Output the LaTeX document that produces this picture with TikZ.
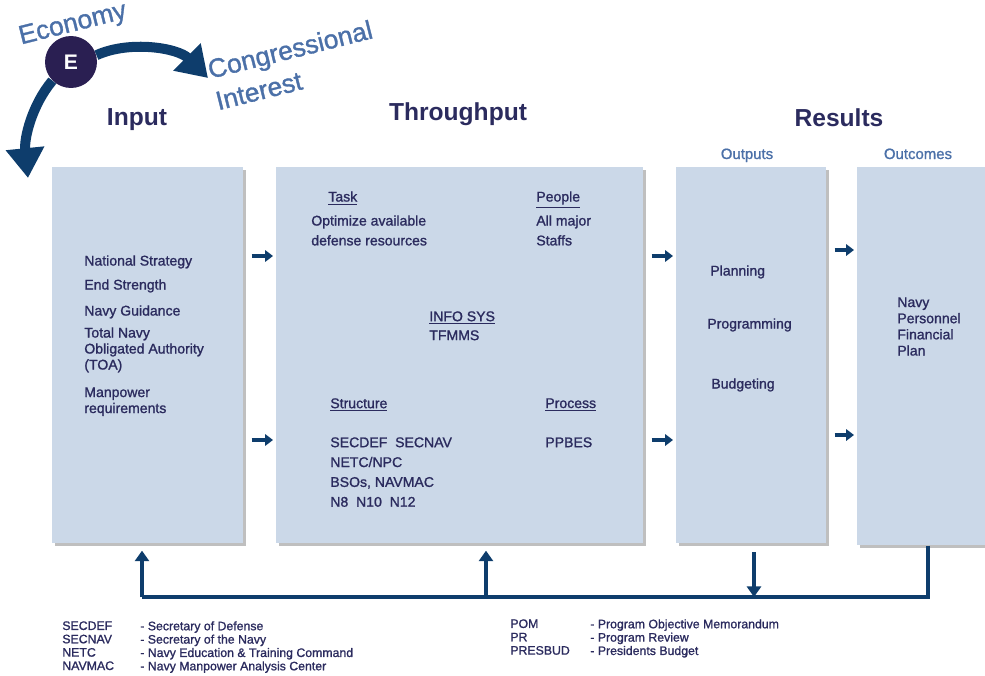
\documentclass[tikz,border=0pt]{standalone}
\usepackage{fontspec}
\setmainfont{Liberation Sans}
\newfontfamily\medfont[FakeBold=1.2]{Liberation Sans}
\usetikzlibrary{arrows.meta,shadows,positioning}

\definecolor{boxfill}{HTML}{CBD8E8}
\definecolor{navytext}{HTML}{2B2B5E}
\definecolor{flowblue}{HTML}{0E3D6C}
\definecolor{headblue}{HTML}{4B70A8}
\definecolor{ecircle}{HTML}{2A1F52}

\begin{document}
\begin{tikzpicture}[x=0.02cm, y=-0.02cm,
		box/.style={fill=boxfill, anchor=north west, inner sep=0pt,
			drop shadow={shadow xshift=1.5pt, shadow yshift=-1.5pt, fill=black, opacity=.25}},
		txt/.style={anchor=north west, inner sep=0pt, text=navytext, align=left,
			font=\medfont\fontsize{8}{9.1}\selectfont},
		title/.style={anchor=base, text=navytext, font=\fontsize{14}{16}\selectfont\bfseries},
		sub/.style={anchor=base, text=headblue, font=\medfont\fontsize{8.5}{10}\selectfont},
		legend/.style={anchor=north west, inner sep=0pt, text=navytext, align=left,
			font=\medfont\fontsize{7}{7.6}\selectfont},
		tilt/.style={text=headblue, align=left, font=\medfont\fontsize{15}{18.5}\selectfont, rotate=14},
		link/.style={draw=flowblue, line width=2.2pt, shorten <=4.5pt, shorten >=1.7pt,
			-{Triangle[length=4.5pt,width=6.5pt]}},
		fb/.style={draw=flowblue, line width=2.6pt},
		fbtip/.style={fb, -{Triangle[length=6pt,width=8pt]}},
		curvearrow/.style={draw=flowblue, line width=5.7pt, -{Triangle[length=17pt,width=21pt]}}]
		\clip (0,0) rectangle (985,676);
		% boxes
		\node[box, minimum width=3.82cm, minimum height=7.52cm] (inbox) at (52,167) {};
		\node[box, minimum width=7.34cm, minimum height=7.52cm] (thru) at (276,167) {};
		\node[box, minimum width=3.0cm, minimum height=7.52cm] (outp) at (676,167) {};
		\node[box, minimum width=3.0cm, minimum height=7.56cm] (outc) at (857,167) {};
		% titles
		\node[title] (tin) at (137,125) {Input};
		\node[title] (tthru) at (458,120) {Throughput};
		\node[title] (tres) at (839,126) {Results};
		\node[sub] (tout) at (747,159) {Outputs};
		\node[sub] (toutc) at (918,159) {Outcomes};
		% input
		\node[txt] (ns) at (84,255) {National Strategy};
		\node[txt] (es) at (84,279) {End Strength};
		\node[txt] (ng) at (84,305) {Navy Guidance};
		\node[txt] (toa) at (84,327) {Total Navy\\Obligated Authority\\(TOA)};
		\node[txt] (mp) at (84,387) {Manpower\\requirements};
		% throughput
		\node[txt] (task) at (328,191) {\underline{Task}};
		\node[txt, font=\medfont\fontsize{8}{11.3}\selectfont] (taskt) at (311,215) {Optimize available\\defense resources};
		\node[txt] (ppl) at (536,191) {\underline{People}};
		\node[txt, font=\medfont\fontsize{8}{11.3}\selectfont] (pplt) at (536,215) {All major\\Staffs};
		\node[txt, font=\medfont\fontsize{8}{10.8}\selectfont] (info) at (429,311) {\underline{INFO SYS}\\TFMMS};
		\node[txt] (str) at (330,398) {\underline{Structure}};
		\node[txt, font=\medfont\fontsize{8}{11.3}\selectfont] (strt) at (330,437)
			{SECDEF~~SECNAV\\NETC/NPC\\BSOs, NAVMAC\\N8~~N10~~N12};
		\node[txt] (proc) at (545,398) {\underline{Process}};
		\node[txt] (proct) at (545,437) {PPBES};
		% results
		\node[txt] (plan) at (710,265) {Planning};
		\node[txt] (prog) at (707,318) {Programming};
		\node[txt] (budg) at (711,378) {Budgeting};
		\node[txt, font=\medfont\fontsize{8}{9.2}\selectfont] (npfp) at (897,297) {Navy\\Personnel\\Financial\\Plan};
		% links
		\coordinate (ra) at (0,256);
		\coordinate (rb) at (0,440);
		\coordinate (sa) at (0,250);
		\coordinate (sb) at (0,435);
		\draw[link] (inbox.east |- ra) -- (thru.west |- ra);
		\draw[link] (inbox.east |- rb) -- (thru.west |- rb);
		\draw[link] (thru.east |- ra) -- (outp.west |- ra);
		\draw[link] (thru.east |- rb) -- (outp.west |- rb);
		\draw[link] (outp.east |- sa) -- (outc.west |- sa);
		\draw[link] (outp.east |- sb) -- (outc.west |- sb);
		% feedback
		\coordinate (fbR) at (928,597);
		\coordinate (fbL) at (142,597);
		\coordinate (fbM) at (486,597);
		\coordinate (fbD) at (754,597);
		\draw[fb] (outc.south -| fbR) -- (fbR) -- (fbL);
		\draw[fbtip, shorten >=4pt] (fbL) -- (inbox.south -| fbL);
		\draw[fbtip, shorten >=4pt] (fbM) -- (thru.south -| fbM);
		\draw[fbtip, shorten <=5pt] (outp.south -| fbD) -- (fbD);
		% economy
		\node[circle, fill=ecircle, minimum size=1.04cm, inner sep=0pt, text=white,
			font=\fontsize{12}{14}\selectfont\bfseries] (E) at (71,62) {E};
		\coordinate (cgtip) at (208,78);
		\coordinate (intip) at (28,178);
		\draw[curvearrow] (E.15) .. controls (130,40) and (178,48) .. (cgtip);
		\draw[curvearrow] (E.225) .. controls (32,105) and (24,138) .. (intip);
		\node[tilt] (econ) at (73,25) {Economy};
		\node[tilt] (cong) at (294,65) {Congressional\\Interest};
		% legend
		\node[legend] (la) at (62,621) {SECDEF\\SECNAV\\NETC\\NAVMAC};
		\node[legend] (lb) at (140,621) {- Secretary of Defense\\- Secretary of the Navy\\- Navy Education \& Training Command\\- Navy Manpower Analysis Center};
		\node[legend] (lc) at (510,619) {POM\\PR\\PRESBUD};
		\node[legend] (ld) at (590,619) {- Program Objective Memorandum\\- Program Review\\- Presidents Budget};
\end{tikzpicture}
\end{document}
